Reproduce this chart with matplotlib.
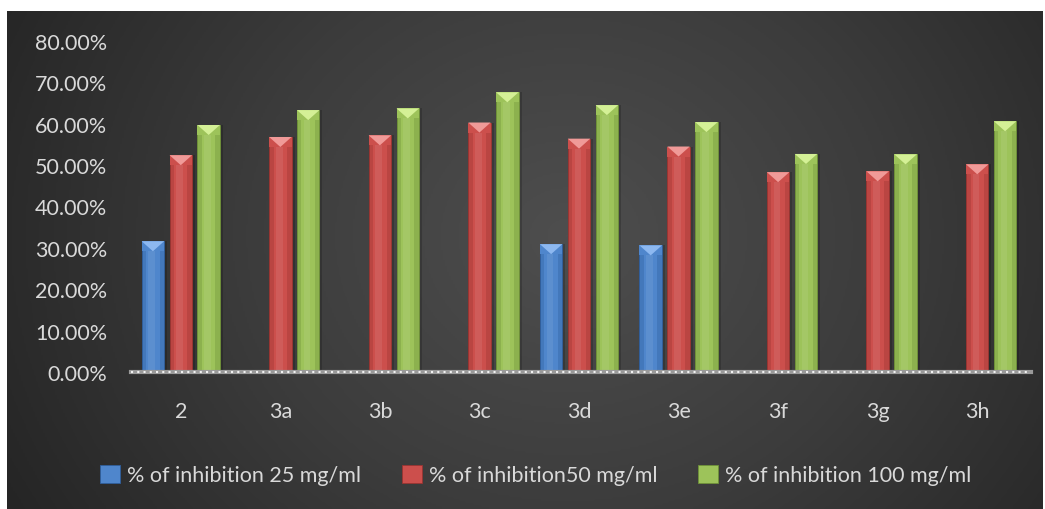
import numpy as np
import matplotlib
matplotlib.use("Agg")
import matplotlib.pyplot as plt
from matplotlib.patches import Polygon
from matplotlib.colors import LinearSegmentedColormap

categories = ["2", "3a", "3b", "3c", "3d", "3e", "3f", "3g", "3h"]
series_names = ["% of inhibition 25 mg/ml", "% of inhibition50 mg/ml", "% of inhibition 100 mg/ml"]
inh_25 = [0.316, 0, 0, 0, 0.309, 0.306, 0, 0, 0]
inh_50 = [0.524, 0.568, 0.572, 0.603, 0.564, 0.545, 0.483, 0.485, 0.502]
inh_100 = [0.597, 0.633, 0.637, 0.676, 0.645, 0.604, 0.527, 0.526, 0.606]
yticks = [0, 0.1, 0.2, 0.3, 0.4, 0.5, 0.6, 0.7, 0.8]

colors = ["#4f86cc", "#cc4f4c", "#9dc35a"]
light = ["#8db8f0", "#f09a98", "#d4f096"]
dark = ["#2f5e9c", "#9a3431", "#6f9238"]

plt.rcParams['font.family'] = ['Lato', 'DejaVu Sans']
W, H = 1045, 510
fig = plt.figure(figsize=(W / 100, H / 100), dpi=100)
fig.patch.set_facecolor("white")

# background radial gradient
bg = fig.add_axes([7 / W, 0, (1043 - 7) / W, (510 - 12) / H])
bg.set_axis_off()
ny, nx = 250, 520
yy, xx = np.mgrid[0:ny, 0:nx]
cx, cy = nx * 0.54, ny * 0.45
r = np.sqrt(((xx - cx) / nx) ** 2 + ((yy - cy) / ny * 0.55) ** 2)
r = r / r.max()
cmap = LinearSegmentedColormap.from_list("bg", ["#4e4e4e", "#3c3c3c", "#252525"])
bg.imshow(r, cmap=cmap, aspect="auto", extent=[0, 1, 0, 1], interpolation="bilinear")

ax = fig.add_axes([131 / W, 1 - 373 / H, (1027 - 131) / W, (373 - 42) / H])
ax.set_facecolor("none")
x = np.arange(len(categories))
bw = 0.225
offs = [-0.28, 0.0, 0.28]
data = [inh_25, inh_50, inh_100]
px_y = 0.8 / 331.0
handles = []
for i, vals in enumerate(data):
    xs = x + offs[i]
    ax.bar(xs + 0.03, vals, bw, color="black", alpha=0.18, zorder=1)
    bars = ax.bar(xs, vals, bw, color=colors[i], zorder=2, label=series_names[i],
                  edgecolor=dark[i], linewidth=0.6)
    handles.append(bars)
    ax.bar(xs - bw * 0.4, vals, bw * 0.2, color=dark[i], alpha=0.35, zorder=3, linewidth=0)
    ax.bar(xs + bw * 0.4, vals, bw * 0.2, color=dark[i], alpha=0.35, zorder=3, linewidth=0)
    ax.bar(xs - bw * 0.05, vals, bw * 0.3, color="white", alpha=0.08, zorder=3, linewidth=0)
    for p in bars.patches:
        h = p.get_height()
        if h <= 0:
            continue
        x0, w = p.get_x(), p.get_width()
        d = 10 * px_y
        cap = Polygon([[x0, h], [x0 + w, h], [x0 + w, h - d], [x0, h - d]],
                      closed=True, facecolor=colors[i], edgecolor="none", zorder=4)
        tri = Polygon([[x0, h], [x0 + w, h], [x0 + w / 2, h - d]], closed=True,
                      facecolor=light[i], edgecolor="none", zorder=5)
        ax.add_patch(cap)
        ax.add_patch(tri)

ax.set_xlim(-0.5, len(categories) - 0.5)
ax.set_ylim(0, 0.8)
ax.set_yticks(yticks)
ax.set_yticklabels(["{:.2f}%".format(v * 100) for v in yticks])
ax.set_xticks(x)
ax.set_xticklabels(categories)
for s in ax.spines.values():
    s.set_visible(False)
ax.tick_params(axis="both", length=0, colors="#d9d9d9", labelsize=15.5)
ax.tick_params(axis="y", pad=17)
ax.tick_params(axis="x", pad=21)

ax.axhline(0, color="#9a9a9a", lw=3, zorder=6, xmin=0, xmax=1.004, clip_on=False)
ax.axhline(0, color="#f2f2f2", lw=1.5, linestyle=(0, (1, 2)), zorder=7, clip_on=False)

leg = fig.legend(handles=handles, labels=series_names, loc="center",
                 bbox_to_anchor=(536 / W, 1 - 476 / H), ncol=3, frameon=False,
                 fontsize=15.5, labelcolor="#d9d9d9", handlelength=0.9, handleheight=0.9,
                 handletextpad=0.35, columnspacing=1.9)

fig.savefig("out.png", dpi=100, facecolor=fig.get_facecolor())
